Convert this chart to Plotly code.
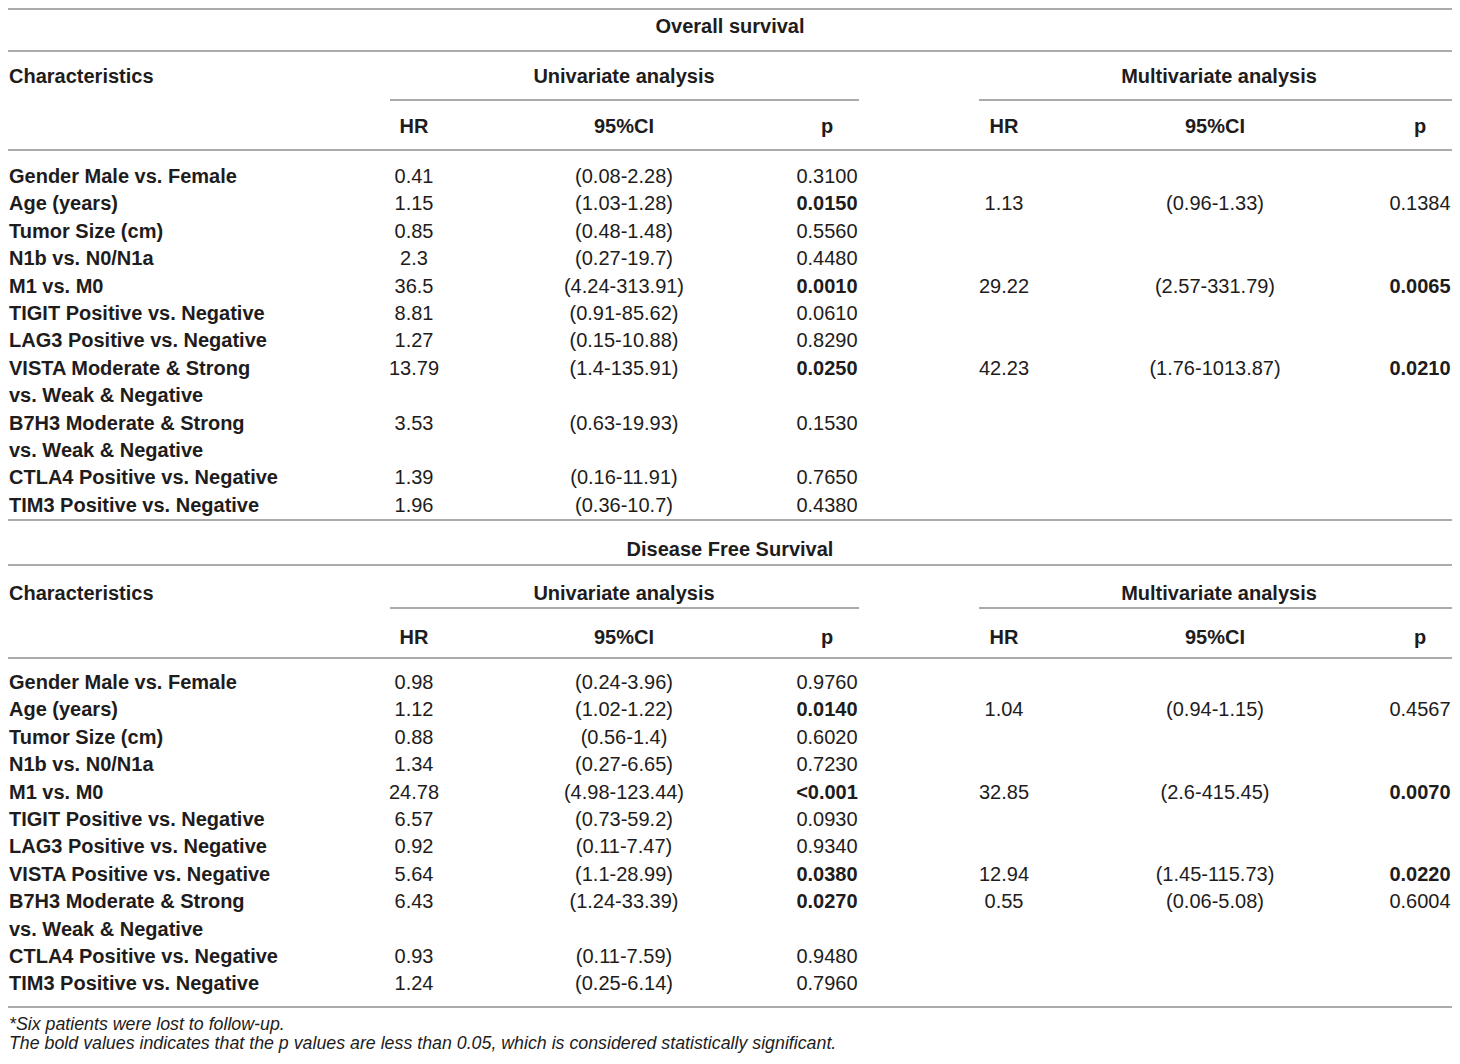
import plotly.graph_objects as go

# ---- data: overall survival ----
os_char = ["Gender Male vs. Female", "Age (years)", "Tumor Size (cm)", "N1b vs. N0/N1a",
           "M1 vs. M0", "TIGIT Positive vs. Negative", "LAG3 Positive vs. Negative",
           "VISTA Moderate & Strong\nvs. Weak & Negative",
           "B7H3 Moderate & Strong\nvs. Weak & Negative",
           "CTLA4 Positive vs. Negative", "TIM3 Positive vs. Negative"]
os_uni_hr = ["0.41", "1.15", "0.85", "2.3", "36.5", "8.81", "1.27", "13.79", "3.53", "1.39", "1.96"]
os_uni_ci = ["(0.08-2.28)", "(1.03-1.28)", "(0.48-1.48)", "(0.27-19.7)", "(4.24-313.91)",
             "(0.91-85.62)", "(0.15-10.88)", "(1.4-135.91)", "(0.63-19.93)", "(0.16-11.91)",
             "(0.36-10.7)"]
os_uni_p = ["0.3100", "0.0150", "0.5560", "0.4480", "0.0010", "0.0610", "0.8290", "0.0250",
            "0.1530", "0.7650", "0.4380"]
os_multi_hr = ["", "1.13", "", "", "29.22", "", "", "42.23", "", "", ""]
os_multi_ci = ["", "(0.96-1.33)", "", "", "(2.57-331.79)", "", "", "(1.76-1013.87)", "", "", ""]
os_multi_p = ["", "0.1384", "", "", "0.0065", "", "", "0.0210", "", "", ""]

# ---- data: disease free survival ----
dfs_char = ["Gender Male vs. Female", "Age (years)", "Tumor Size (cm)", "N1b vs. N0/N1a",
            "M1 vs. M0", "TIGIT Positive vs. Negative", "LAG3 Positive vs. Negative",
            "VISTA Positive vs. Negative",
            "B7H3 Moderate & Strong\nvs. Weak & Negative",
            "CTLA4 Positive vs. Negative", "TIM3 Positive vs. Negative"]
dfs_uni_hr = ["0.98", "1.12", "0.88", "1.34", "24.78", "6.57", "0.92", "5.64", "6.43", "0.93", "1.24"]
dfs_uni_ci = ["(0.24-3.96)", "(1.02-1.22)", "(0.56-1.4)", "(0.27-6.65)", "(4.98-123.44)",
              "(0.73-59.2)", "(0.11-7.47)", "(1.1-28.99)", "(1.24-33.39)", "(0.11-7.59)",
              "(0.25-6.14)"]
dfs_uni_p = ["0.9760", "0.0140", "0.6020", "0.7230", "<0.001", "0.0930", "0.9340", "0.0380",
             "0.0270", "0.9480", "0.7960"]
dfs_multi_hr = ["", "1.04", "", "", "32.85", "", "", "12.94", "0.55", "", ""]
dfs_multi_ci = ["", "(0.94-1.15)", "", "", "(2.6-415.45)", "", "", "(1.45-115.73)", "(0.06-5.08)", "", ""]
dfs_multi_p = ["", "0.4567", "", "", "0.0070", "", "", "0.0220", "0.6004", "", ""]

section_titles = ["Overall survival", "Disease Free Survival"]
group_titles = ["Univariate analysis", "Multivariate analysis"]
sub_headers = ["HR", "95%CI", "p"]
footnotes = ["*Six patients were lost to follow-up.",
             "The bold values indicates that the p values are less than 0.05, which is considered statistically significant."]

# ---- layout constants (page pixels) ----
W, H = 1460, 1064
PAD = 8  # page body margin around the plot div
FONT = "Liberation Sans, Arial, sans-serif"
TXT = "#1e1c1c"
RULE = "#ababab"
X0, X1 = PAD + 1, W - PAD
LEFT_X = PAD + 1
COL_X = {"uni": [414, 624, 827], "multi": [1004, 1215, 1420]}
GROUP_X = [624, 1219]
GROUP_LINE = [(390, 859), (979, X1)]
ROW_STEP = 27.4
TEXT_DY = 2
SECTIONS_Y = [
    dict(top=PAD + 1, title=26, rule1=51, group=76, part=100, sub=126, rule2=150, row0=176, bottom=520),
    dict(top=None, title=549, rule1=565, group=593, part=608, sub=637, rule2=658, row0=682, bottom=1007),
]
FOOT_Y = [1024, 1043]


def is_sig(p):
    if not p:
        return False
    if p.startswith("<"):
        return True
    return float(p) < 0.05


def bold(s):
    return "<b>" + s + "</b>" if s else s


fig = go.Figure()
shapes = []
left = dict(x=[], y=[], text=[])
center = dict(x=[], y=[], text=[])


def add(store, x, y, t):
    store["x"].append(x)
    store["y"].append(y + TEXT_DY)
    store["text"].append(t)


def rule(y, x0=X0 - 1, x1=X1):
    shapes.append(dict(type="line", xref="x", yref="y", x0=x0, x1=x1, y0=y, y1=y,
                       line=dict(color=RULE, width=2)))


sections = [
    (os_char, os_uni_hr, os_uni_ci, os_uni_p, os_multi_hr, os_multi_ci, os_multi_p),
    (dfs_char, dfs_uni_hr, dfs_uni_ci, dfs_uni_p, dfs_multi_hr, dfs_multi_ci, dfs_multi_p),
]

for si, (chars, uhr, uci, up, mhr, mci, mp) in enumerate(sections):
    ly = SECTIONS_Y[si]
    if ly["top"] is not None:
        rule(ly["top"])
    add(center, W / 2, ly["title"], bold(section_titles[si]))
    rule(ly["rule1"])
    add(left, LEFT_X, ly["group"], bold("Characteristics"))
    for gx, gt in zip(GROUP_X, group_titles):
        add(center, gx, ly["group"], bold(gt))
    for x0, x1 in GROUP_LINE:
        rule(ly["part"], x0, x1)
    for key in ("uni", "multi"):
        for cx, h in zip(COL_X[key], sub_headers):
            add(center, cx, ly["sub"], bold(h))
    rule(ly["rule2"])

    line = 0
    for i, ch in enumerate(chars):
        y = ly["row0"] + line * ROW_STEP
        parts = ch.split("\n")
        for k, part in enumerate(parts):
            add(left, LEFT_X, y + k * ROW_STEP, bold(part))
        add(center, COL_X["uni"][0], y, uhr[i])
        add(center, COL_X["uni"][1], y, uci[i])
        add(center, COL_X["uni"][2], y, bold(up[i]) if is_sig(up[i]) else up[i])
        if mhr[i]:
            add(center, COL_X["multi"][0], y, mhr[i])
            add(center, COL_X["multi"][1], y, mci[i])
            add(center, COL_X["multi"][2], y, bold(mp[i]) if is_sig(mp[i]) else mp[i])
        line += len(parts)
    rule(ly["bottom"])

foot = dict(x=[], y=[], text=[])
for fy, f in zip(FOOT_Y, footnotes):
    add(foot, LEFT_X, fy, "<i>" + f + "</i>")

fig.add_trace(go.Scatter(x=center["x"], y=center["y"], text=center["text"], mode="text",
                         textposition="middle center", hoverinfo="skip", cliponaxis=False,
                         textfont=dict(family=FONT, size=20, color=TXT)))
fig.add_trace(go.Scatter(x=left["x"], y=left["y"], text=left["text"], mode="text",
                         textposition="middle right", hoverinfo="skip", cliponaxis=False,
                         textfont=dict(family=FONT, size=20, color=TXT)))
fig.add_trace(go.Scatter(x=foot["x"], y=foot["y"], text=foot["text"], mode="text",
                         textposition="middle right", hoverinfo="skip", cliponaxis=False,
                         textfont=dict(family=FONT, size=17.8, color=TXT)))

# the plot div sits inside the page margin, so axes map straight to page pixels
fig.update_layout(
    width=W - 2 * PAD, height=H - 2 * PAD,
    margin=dict(l=0, r=0, t=0, b=0),
    paper_bgcolor="white", plot_bgcolor="white",
    showlegend=False,
    shapes=shapes,
    xaxis=dict(range=[PAD, W - PAD], visible=False, fixedrange=True),
    yaxis=dict(range=[H - PAD, PAD], visible=False, fixedrange=True),
)

fig.write_html("out.html")
